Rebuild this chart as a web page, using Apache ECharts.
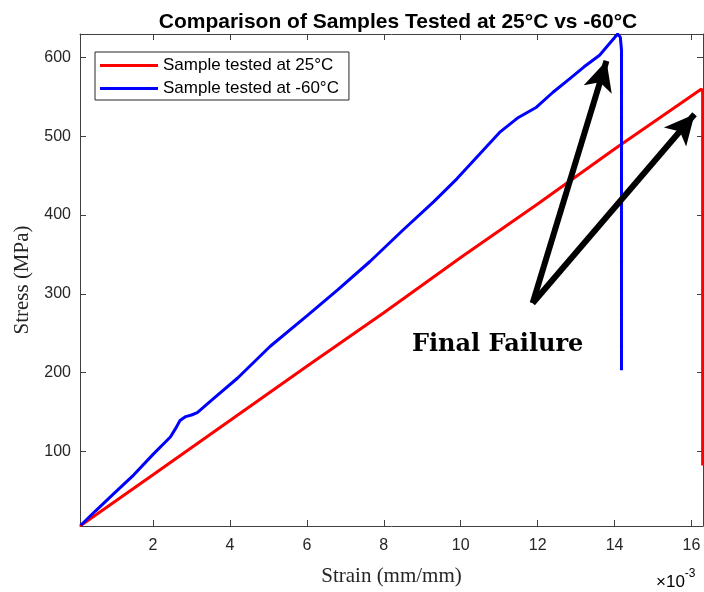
<!DOCTYPE html>
<html>
<head>
<meta charset="utf-8">
<script src="https://cdn.jsdelivr.net/npm/echarts@6/dist/echarts.min.js"></script>
<style>html,body{margin:0;padding:0;background:#fff;}#c{width:704px;height:592px;}</style>
</head>
<body>
<div id="c"></div>
<script>
// ---- data ----
const titleText = 'Comparison of Samples Tested at 25\u00B0C vs -60\u00B0C';
const seriesNames = ['Sample tested at 25\u00B0C', 'Sample tested at -60\u00B0C'];
const xTicks = [2, 4, 6, 8, 10, 12, 14, 16];
const yTicks = [100, 200, 300, 400, 500, 600];
const xRange = [0.1, 16.3];
const yRange = [5, 630];
// strain (x10^-3), stress (MPa)
const red25 = [
  [0.1, 5], [2, 70], [4, 139], [6, 208], [8, 276], [10, 346], [12, 414], [14, 484],
  [16.26, 560], [16.29, 556], [16.29, 82]
];
const blueM60 = [
  [0.12, 6], [0.5, 24], [1, 47], [1.5, 70], [2, 96], [2.45, 118], [2.6, 130], [2.7, 139],
  [2.85, 144], [3.0, 146], [3.15, 149], [3.6, 168], [4.2, 193], [5.04, 233], [6, 272],
  [6.8, 305], [7.64, 341], [8.5, 381], [9.3, 417], [9.9, 446], [10.5, 478], [11.01, 505],
  [11.5, 524], [11.97, 537], [12.4, 556], [12.83, 573], [13.2, 588], [13.61, 603],
  [14.08, 630], [14.15, 626], [14.18, 610], [14.18, 203]
];
const annotationText = 'Final Failure';
const annotationAt = [10.96, 235];
const arrowBase = [11.87, 288];
const arrowTips = [[13.79, 596], [16.08, 528]];

// ---- chart ----
const chart = echarts.init(document.getElementById('c'), null, {renderer: 'canvas'});
const sans = 'Liberation Sans, Arial, sans-serif';
const serif = 'Liberation Serif, Times New Roman, serif';
const axisCol = '#404040';
const labCol = '#262626';

function baseAxis(extra) {
  return Object.assign({
    type: 'value',
    axisLine: {show: true, onZero: false, lineStyle: {color: axisCol, width: 1}},
    axisTick: {show: true, inside: true, length: 6, lineStyle: {color: axisCol}},
    splitLine: {show: false}
  }, extra);
}

const option = {
  animation: false,
  backgroundColor: '#fff',
  title: {
    text: titleText, left: 393, top: 7, textAlign: 'center',
    textStyle: {fontFamily: sans, fontWeight: 'bold', fontSize: 21, color: '#000'}
  },
  legend: {
    orient: 'vertical', left: 95, top: 52,
    data: seriesNames,
    icon: 'rect', itemWidth: 58, itemHeight: 3, itemGap: 6,
    padding: [5, 10, 3, 5],
    borderColor: '#262626', borderWidth: 1, backgroundColor: '#fff',
    textStyle: {fontFamily: sans, fontSize: 17, color: '#000'}
  },
  grid: {left: 80, right: 1, top: 34, bottom: 64},
  xAxis: [
    baseAxis({
      min: xRange[0], max: xRange[1], position: 'bottom',
      name: 'Strain (mm/mm)', nameLocation: 'middle', nameGap: 40,
      nameTextStyle: {fontFamily: serif, fontSize: 21, color: labCol},
      axisTick: {show: true, inside: true, length: 6, lineStyle: {color: axisCol}, customValues: xTicks},
      axisLabel: {show: true, customValues: xTicks, margin: 12, fontFamily: sans, fontSize: 16, color: labCol}
    }),
    baseAxis({
      min: xRange[0], max: xRange[1], position: 'top',
      axisTick: {show: true, inside: true, length: 6, lineStyle: {color: axisCol}, customValues: xTicks},
      axisLabel: {show: false}
    })
  ],
  yAxis: [
    baseAxis({
      min: yRange[0], max: yRange[1], position: 'left',
      name: 'Stress (MPa)', nameLocation: 'middle', nameGap: 47,
      nameTextStyle: {fontFamily: serif, fontSize: 21, color: labCol},
      axisTick: {show: true, inside: true, length: 6, lineStyle: {color: axisCol}, customValues: yTicks},
      axisLabel: {show: true, customValues: yTicks, margin: 9, fontFamily: sans, fontSize: 16, color: labCol}
    }),
    baseAxis({
      min: yRange[0], max: yRange[1], position: 'right',
      axisTick: {show: true, inside: true, length: 6, lineStyle: {color: axisCol}, customValues: yTicks},
      axisLabel: {show: false}
    })
  ],
  graphic: [{
    type: 'text', left: 656, top: 568,
    style: {
      text: '{a|\u00D710}{b|-3}',
      rich: {
        a: {fontFamily: sans, fontSize: 17, color: labCol, padding: [6, 0, 0, 0]},
        b: {fontFamily: sans, fontSize: 12, color: labCol, verticalAlign: 'top'}
      }
    }
  }],
  series: [
    {
      name: seriesNames[0], type: 'line', data: red25, showSymbol: false, symbol: 'none',
      lineStyle: {color: '#ff0000', width: 3}, itemStyle: {color: '#ff0000'},
      markPoint: {
        silent: true, symbol: 'circle', symbolSize: 1, itemStyle: {color: 'rgba(0,0,0,0)'},
        label: {show: true, position: 'inside', formatter: annotationText,
          fontFamily: 'DejaVu Serif, serif', fontWeight: 'bold', fontSize: 24, color: '#000'},
        data: [{coord: annotationAt}]
      }
    },
    {
      name: seriesNames[1], type: 'line', data: blueM60, showSymbol: false, symbol: 'none',
      lineStyle: {color: '#0000ff', width: 3}, itemStyle: {color: '#0000ff'},
      markLine: {
        silent: true, symbol: ['none', 'arrow'], symbolSize: [22, 30],
        lineStyle: {color: '#000', width: 6, type: 'solid'},
        label: {show: false},
        data: arrowTips.map(t => [{coord: arrowBase}, {coord: t}])
      }
    }
  ]
};
chart.setOption(option);
</script>
</body>
</html>
